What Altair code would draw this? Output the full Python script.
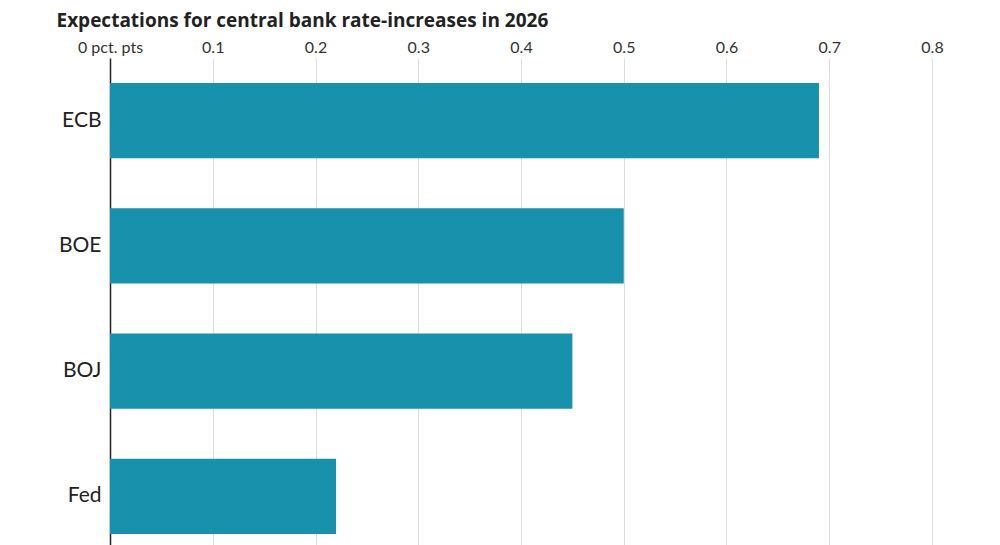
import altair as alt
import pandas as pd

banks = ["ECB", "BOE", "BOJ", "Fed"]
values = [0.69, 0.50, 0.45, 0.22]
tick_values = [0, 0.1, 0.2, 0.3, 0.4, 0.5, 0.6, 0.7, 0.8]

df = pd.DataFrame({"bank": banks, "value": values})

label_expr = "datum.value == 0 ? '0 pct. pts' : format(datum.value, '.1f')"

chart = alt.Chart(df).mark_bar(color="#1891ac").encode(
    x=alt.X(
        "value:Q",
        scale=alt.Scale(domain=[0, 0.8], nice=False),
        axis=alt.Axis(
            orient="top",
            values=tick_values,
            labelExpr=label_expr,
            title=None,
            ticks=False,
            domain=False,
            grid=True,
            gridColor="#dddddd",
            gridWidth=1,
            labelFont="Lato",
            labelFontSize=16,
            labelColor="#333333",
            labelPadding=3,
            labelFlush=False,
        ),
    ),
    y=alt.Y(
        "bank:N",
        sort=banks,
        scale=alt.Scale(paddingInner=0.4, paddingOuter=0.2),
        axis=alt.Axis(
            title=None,
            ticks=False,
            domain=True,
            domainColor="#222222",
            domainWidth=1.5,
            labelFont="Lato",
            labelFontSize=21,
            labelColor="#222222",
            labelPadding=9,
        ),
    ),
).properties(
    width=822,
    height=501,
    title=alt.Title(
        "Expectations for central bank rate-increases in 2026",
        anchor="start",
        frame="bounds",
        font="Open Sans",
        fontSize=19,
        fontWeight="bold",
        color="#222222",
        offset=8,
        dx=-2,
    ),
    padding={"left": 56, "top": 12, "right": 10, "bottom": 0},
).configure_view(stroke=None)

chart.save("out.html", embed_options={"renderer": "svg", "actions": False})
